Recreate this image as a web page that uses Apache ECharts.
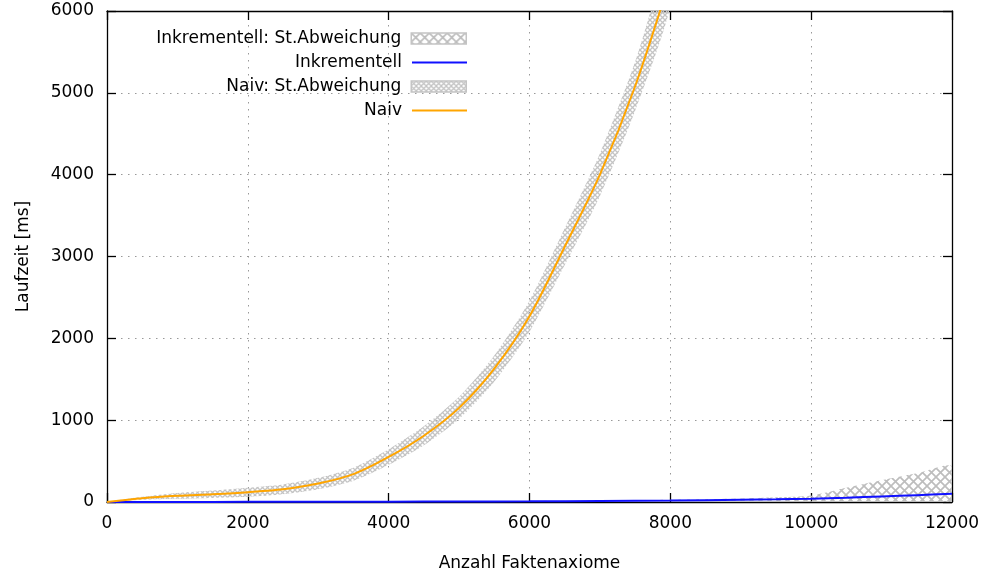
<!DOCTYPE html>
<html>
<head>
<meta charset="utf-8">
<script src="https://cdn.jsdelivr.net/npm/echarts@6/dist/echarts.min.js"></script>
<style>html,body{margin:0;padding:0;background:#fff}#c{width:986px;height:575px}</style>
</head>
<body>
<div id="c"></div>
<script>
// ---- data ----
const naiveX    = [0, 500, 1000, 1500, 2000, 2500, 3000, 3500, 4000, 4500, 5000, 5500, 6000, 6500, 7000, 7500, 8000];
const naiveMean = [0, 45, 75, 95, 120, 155, 225, 340, 550, 810, 1150, 1630, 2270, 3120, 4000, 5080, 6400];
const naiveSd   = [0, 18, 35, 45, 55, 60, 70, 80, 95, 115, 135, 160, 190, 225, 260, 300, 340];

const incrX     = [0, 1000, 2000, 3000, 4000, 5000, 6000, 7000, 8000, 9000, 9500, 10000, 10500, 11000, 11500, 12000];
const incrMean  = [0, 1, 2, 3, 4, 6, 8, 12, 18, 28, 33, 40, 52, 68, 84, 100];
const incrSd    = [0, 1, 2, 2, 2, 2, 2, 3, 8, 14, 24, 40, 123, 197, 266, 340];

const xTicks = [0, 2000, 4000, 6000, 8000, 10000, 12000];
const yTicks = [0, 1000, 2000, 3000, 4000, 5000, 6000];

const names = {
  incrBand: 'Inkrementell: St.Abweichung',
  incr: 'Inkrementell',
  naiveBand: 'Naiv: St.Abweichung',
  naive: 'Naiv'
};

// ---- hatch patterns ----
function hatch(size, color, lw) {
  const c = document.createElement('canvas');
  c.width = c.height = size;
  const g = c.getContext('2d');
  g.strokeStyle = color; g.lineWidth = lw;
  g.beginPath();
  g.moveTo(0, 0); g.lineTo(size, size);
  g.moveTo(size, 0); g.lineTo(0, size);
  g.stroke();
  return { image: c, repeat: 'repeat' };
}
const incrPattern = hatch(9, '#bdbdbd', 1.7);
const naivePattern = hatch(5, '#c4c4c4', 1.3);

const pairs = (xs, ys) => xs.map((x, i) => [x, ys[i]]);

// band series: each data row = [x, low, high]
const bandRows = (xs, mean, sd) => xs.map((x, i) => [x, Math.max(0, mean[i] - sd[i]), mean[i] + sd[i]]);

function bandSeries(name, rows, pattern) {
  return {
    name: name,
    type: 'custom',
    data: rows,
    clip: true,
    silent: true,
    z: 1,
    itemStyle: { color: pattern },
    encode: { x: 0, y: [1, 2] },
    renderItem: function (params, api) {
      if (params.dataIndex !== 0) return null;
      const upper = [], lower = [];
      for (let i = 0; i < rows.length; i++) {
        upper.push(api.coord([rows[i][0], rows[i][2]]));
        lower.push(api.coord([rows[i][0], rows[i][1]]));
      }
      const pts = upper.concat(lower.reverse());
      const cs = params.coordSys;
      return {
        type: 'polygon',
        shape: { points: pts, smooth: 0.25 },
        style: { fill: pattern, stroke: null },
        clipPath: { type: 'rect', shape: { x: cs.x, y: cs.y, width: cs.width, height: cs.height } }
      };
    }
  };
}

const FONT = 'DejaVu Sans';
const fs = 17;

function axisCommon(showLabel) {
  return {
    type: 'value',
    axisLine: { show: true, onZero: false, lineStyle: { color: '#000', width: 1.3 } },
    axisTick: { show: true, inside: true, length: 9, lineStyle: { color: '#000', width: 1.3 } },
    axisLabel: { show: showLabel, color: '#000', fontFamily: FONT, fontSize: fs },
    splitLine: { show: false }
  };
}

const legendBase = (item, top, h) => ({
  orient: 'vertical',
  right: 986 - 472,
  top: top,
  itemWidth: 55,
  itemHeight: h,
  align: 'right',
  selectedMode: false,
  textStyle: { fontFamily: FONT, fontSize: fs, color: '#000', padding: [0, 5, 0, 0] },
  data: [item]
});

const plainFmt = v => String(v);

const chart = echarts.init(document.getElementById('c'), null, { renderer: 'canvas' });
chart.setOption({
  animation: false,
  backgroundColor: '#fff',
  grid: { left: 107, right: 34, top: 11, bottom: 73, containLabel: false, outerBoundsMode: 'none' },
  legend: [
    legendBase({ name: names.incrBand, icon: 'rect', itemStyle: { color: incrPattern, borderColor: '#c4c4c4', borderWidth: 1.5 } }, 25, 11),
    legendBase({ name: names.incr, icon: 'rect', itemStyle: { color: '#1010ff', borderWidth: 0 } }, 49, 2),
    legendBase({ name: names.naiveBand, icon: 'rect', itemStyle: { color: naivePattern, borderColor: '#c4c4c4', borderWidth: 1.5 } }, 73, 11),
    legendBase({ name: names.naive, icon: 'rect', itemStyle: { color: '#ffa500', borderWidth: 0 } }, 97, 2)
  ],
  xAxis: [
    Object.assign(axisCommon(true), {
      min: 0, max: 12000, interval: 2000, position: 'bottom',
      name: 'Anzahl Faktenaxiome', nameLocation: 'middle', nameGap: 53,
      nameTextStyle: { fontFamily: FONT, fontSize: fs, color: '#000' },
      axisLabel: { show: true, color: '#000', fontFamily: FONT, fontSize: fs, margin: 13,
        customValues: xTicks, formatter: plainFmt },
      splitLine: { show: true, lineStyle: { color: '#999', type: [1.5, 5.5], width: 1 } }
    }),
    Object.assign(axisCommon(false), { min: 0, max: 12000, interval: 2000, position: 'top' })
  ],
  yAxis: [
    Object.assign(axisCommon(true), {
      min: 0, max: 6000, interval: 1000, position: 'left',
      name: 'Laufzeit [ms]', nameLocation: 'middle', nameGap: 75, nameRotate: 90,
      nameTextStyle: { fontFamily: FONT, fontSize: fs, color: '#000' },
      axisLabel: { show: true, color: '#000', fontFamily: FONT, fontSize: fs, margin: 13,
        customValues: yTicks, formatter: plainFmt },
      splitLine: { show: true, lineStyle: { color: '#999', type: [1.5, 5.5], width: 1 } }
    }),
    Object.assign(axisCommon(false), { min: 0, max: 6000, interval: 1000, position: 'right' })
  ],
  series: [
    bandSeries(names.incrBand, bandRows(incrX, incrMean, incrSd), incrPattern),
    bandSeries(names.naiveBand, bandRows(naiveX, naiveMean, naiveSd), naivePattern),
    {
      name: names.incr, type: 'line', data: pairs(incrX, incrMean),
      symbol: 'none', lineStyle: { color: '#1010ff', width: 2 }, itemStyle: { color: '#1010ff' },
      z: 3, smooth: 0.3
    },
    {
      name: names.naive, type: 'line', data: pairs(naiveX, naiveMean),
      symbol: 'none', lineStyle: { color: '#ffa500', width: 2 }, itemStyle: { color: '#ffa500' },
      z: 3, smooth: 0.3
    }
  ]
});
</script>
</body>
</html>
